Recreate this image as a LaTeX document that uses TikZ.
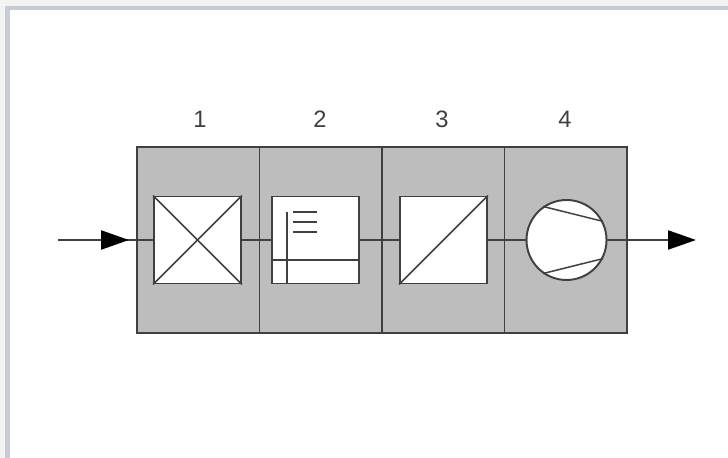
\documentclass[tikz,border=0pt]{standalone}
\usepackage{fontspec}
\setmainfont{Liberation Sans}
\usetikzlibrary{arrows.meta}

\definecolor{framegray}{HTML}{C6CCD1}
\definecolor{pagegray}{HTML}{F3F3F3}
\definecolor{unitgray}{HTML}{BDBDBD}
\definecolor{linegray}{HTML}{404040}

\tikzset{
    unit/.style={draw=linegray, fill=unitgray, line width=0.9pt, minimum width=2.45cm, minimum height=3.72cm, inner sep=0pt},
    part/.style={draw=linegray, fill=white, line width=1.1pt, minimum size=1.74cm, inner sep=0pt},
    pump/.style={draw=linegray, fill=white, line width=1.1pt, circle, minimum size=1.6cm, inner sep=0pt},
    flow/.style={draw=linegray, line width=1.3pt},
    tip/.style={-{Triangle[length=0.56cm,width=0.38cm,color=black]}, shorten >=0pt},
    detail/.style={draw=linegray, line width=0.85pt},
    number/.style={font=\fontsize{13.5}{14}\selectfont, text=linegray, inner sep=0pt}
}

\begin{document}
\begin{tikzpicture}

    % Page and frame
    \fill[pagegray] (0,0) rectangle (14.56,9.16);
    \fill[framegray] (0.10,0) rectangle (14.56,9.04);
    \fill[white] (0.19,0) rectangle (14.56,8.95);
    \useasboundingbox (0,0) rectangle (14.56,9.16);

    % Housing sections
    \node[unit] (sec1) at (3.965,4.36) {};
    \node[unit] (sec2) at (6.415,4.36) {};
    \node[unit] (sec3) at (8.865,4.36) {};
    \node[unit] (sec4) at (11.315,4.36) {};

    % Section numbers
    \node[number] (num1) at (4.00,6.77) {1};
    \node[number] (num2) at (6.40,6.77) {2};
    \node[number] (num3) at (8.84,6.77) {3};
    \node[number] (num4) at (11.30,6.77) {4};

    % Components
    \node[part] (cross) at (3.95,4.36) {};
    \node[part] (filter) at (6.31,4.36) {};
    \node[part] (diag) at (8.87,4.36) {};
    \node[pump] (fan) at (11.33,4.36) {};

    % Flow line ends
    \coordinate (inlet) at (1.16,4.36);
    \coordinate (inlet_tip) at (2.58,4.36);
    \coordinate (outlet) at (13.92,4.36);

    % Incoming and outgoing flow
    \draw[flow] (inlet) -- (cross.west);
    \draw[flow, tip] (inlet) -- (inlet_tip);
    \draw[flow, tip] (fan.east) -- (outlet);

    % Links between components
    \draw[flow] (cross.east) -- (filter.west);
    \draw[flow] (filter.east) -- (diag.west);
    \draw[flow] (diag.east) -- (fan.west);

    % Cross box
    \draw[detail] (cross.north west) -- (cross.south east);
    \draw[detail] (cross.south west) -- (cross.north east);

    % Filter box
    \coordinate (rule_top) at (5.74,4.92);
    \draw[detail] (filter.west |- 0,3.96) -- (filter.east |- 0,3.96);
    \draw[detail] (rule_top) -- (rule_top |- filter.south);
    \draw[detail] (5.86,4.92) -- (6.34,4.92);
    \draw[detail] (5.86,4.72) -- (6.34,4.72);
    \draw[detail] (5.86,4.52) -- (6.34,4.52);

    % Diagonal box
    \draw[detail] (diag.south west) -- (diag.north east);

    % Fan blades
    \draw[detail] (fan.125) -- (fan.27);
    \draw[detail] (fan.-125) -- (fan.-27);

\end{tikzpicture}
\end{document}
